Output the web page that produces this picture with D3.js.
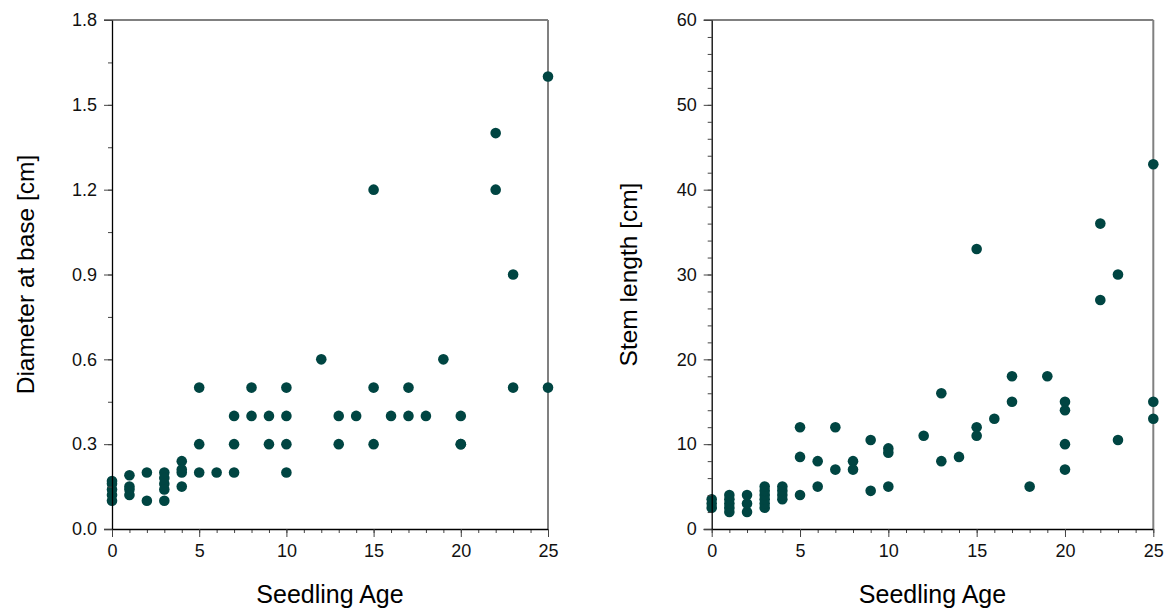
<!DOCTYPE html>
<html><head><meta charset="utf-8">
<script src="https://cdn.jsdelivr.net/npm/d3@7"></script>
<style>body{margin:0;background:#fff;} svg{display:block;font-family:"Liberation Sans",Arial,sans-serif;}</style>
</head><body>
<script>
// Left panel: diameter at base
const diamAge = [0,0,0,0,0, 1,1,1,1, 2,2, 3,3,3,3,3, 4,4,4,4, 5,5,5, 6, 7,7,7, 8,8, 9,9, 10,10,10,10, 12, 13,13, 14, 15,15,15, 16, 17,17, 18, 19, 20,20,20, 22,22, 23,23, 25,25];
const diamVal = [0.10,0.12,0.14,0.16,0.17, 0.19,0.15,0.14,0.12, 0.20,0.10, 0.20,0.18,0.16,0.14,0.10, 0.24,0.21,0.20,0.15, 0.50,0.30,0.20, 0.20, 0.40,0.30,0.20, 0.50,0.40, 0.40,0.30, 0.50,0.40,0.30,0.20, 0.60, 0.40,0.30, 0.40, 1.20,0.50,0.30, 0.40, 0.50,0.40, 0.40, 0.60, 0.40,0.30,0.30, 1.40,1.20, 0.90,0.50, 1.60,0.50];
// Right panel: stem length
const stemAge = [0,0,0, 1,1,1,1,1, 2,2,2, 3,3,3,3,3,3, 4,4,4,4, 5,5,5, 6,6, 7,7, 8,8, 9,9, 10,10,10, 12, 13,13, 14, 15,15,15, 16, 17,17, 18, 19, 20,20,20,20, 22,22, 23,23, 25,25,25];
const stemVal = [2.5,3,3.5, 2,2.5,3,3.5,4, 2,3,4, 2.5,3,3.5,4,4.5,5, 3.5,4,4.5,5, 12,8.5,4, 8,5, 12,7, 8,7, 10.5,4.5, 9.5,9,5, 11, 16,8, 8.5, 33,12,11, 13, 18,15, 5, 18, 15,14,10,7, 36,27, 30,10.5, 43,15,13];

const xMajor = [0,5,10,15,20,25];
const xMinor = d3.range(0,26,1);
const diamMajor = [0,0.3,0.6,0.9,1.2,1.5,1.8];
const diamMinor = d3.range(0,1.81,0.15);
const stemMajor = [0,10,20,30,40,50,60];
const stemMinor = d3.range(0,61,2);

const W = 1170, H = 609;
const svg = d3.select("body").append("svg").attr("width",W).attr("height",H);
const dotColor = "#004542";

function panel(x0, x1, ageArr, valArr, yMax, yMajor, yMinor, yFmt, yTitle, titleX){
  const top = 20, bottom = 529;
  const x = d3.scaleLinear().domain([0,25]).range([x0,x1]);
  const y = d3.scaleLinear().domain([0,yMax]).range([bottom,top]);
  const g = svg.append("g");
  // frame top & right (grey)
  g.append("line").attr("x1",x0-8).attr("x2",x1).attr("y1",top).attr("y2",top).attr("stroke","#808080").attr("stroke-width",2);
  g.append("line").attr("x1",x1).attr("x2",x1).attr("y1",top).attr("y2",bottom).attr("stroke","#808080").attr("stroke-width",2);
  // points
  g.append("g").selectAll("circle").data(ageArr.map((a,i)=>[a,valArr[i]])).join("circle")
    .attr("cx",d=>x(d[0])).attr("cy",d=>y(d[1])).attr("r",5.3).attr("fill",dotColor);
  // minor ticks
  g.append("g").attr("transform",`translate(0,${bottom})`)
    .call(d3.axisBottom(x).tickValues(xMinor).tickSize(4).tickFormat("").tickSizeOuter(0))
    .call(s=>{s.select(".domain").remove(); s.selectAll("line").attr("stroke","#444");});
  g.append("g").attr("transform",`translate(${x0},0)`)
    .call(d3.axisLeft(y).tickValues(yMinor).tickSize(4).tickFormat("").tickSizeOuter(0))
    .call(s=>{s.select(".domain").remove(); s.selectAll("line").attr("stroke","#444");});
  // major
  const xa = g.append("g").attr("transform",`translate(0,${bottom})`)
    .call(d3.axisBottom(x).tickValues(xMajor).tickSize(8).tickPadding(7).tickSizeOuter(0));
  xa.select(".domain").attr("stroke","#000").attr("stroke-width",1.3).attr("d",`M${x0-8},0.5H${x1}`);
  xa.selectAll("line").attr("stroke","#444");
  xa.selectAll("text").attr("font-size",18).attr("fill","#111").attr("font-family","Liberation Sans, Arial, sans-serif");
  const ya = g.append("g").attr("transform",`translate(${x0},0)`)
    .call(d3.axisLeft(y).tickValues(yMajor).tickFormat(yFmt).tickSize(8).tickPadding(7).tickSizeOuter(0));
  ya.select(".domain").attr("stroke","#000").attr("stroke-width",1.3);
  ya.selectAll("line").attr("stroke","#444");
  ya.selectAll("text").attr("font-size",18).attr("fill","#111").attr("font-family","Liberation Sans, Arial, sans-serif");
  // titles
  g.append("text").attr("x",(x0+x1)/2).attr("y",603).attr("text-anchor","middle")
    .attr("font-size",25).attr("fill","#000").text("Seedling Age");
  g.append("text").attr("transform",`translate(${titleX},${(top+bottom)/2}) rotate(-90)`)
    .attr("text-anchor","middle").attr("font-size",24.5).attr("fill","#000").text(yTitle);
}

panel(112, 548, diamAge, diamVal, 1.8, diamMajor, diamMinor, d3.format(".1f"), "Diameter at base [cm]", 34);
panel(711.7, 1153.3, stemAge, stemVal, 60, stemMajor, stemMinor, d3.format("d"), "Stem length [cm]", 637);
</script>
</body></html>
